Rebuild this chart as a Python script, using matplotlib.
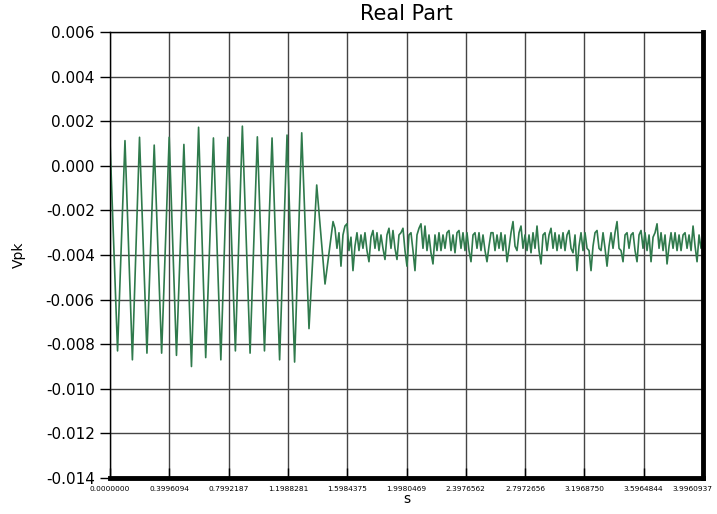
import numpy as np
import matplotlib.pyplot as plt
from matplotlib.transforms import ScaledTranslation

# Oscillating start of the record: turning points (s, mV)
osc_t = [0.000, 0.051, 0.101, 0.151, 0.199, 0.249, 0.298, 0.348, 0.399, 0.448,
         0.498, 0.549, 0.597, 0.645, 0.697, 0.747, 0.795, 0.845, 0.892, 0.944,
         0.993, 1.041, 1.092, 1.143, 1.193, 1.244, 1.292, 1.341, 1.393, 1.449,
         1.503]
osc_v = [1.10, -8.30, 1.13, -8.70, 1.28, -8.40, 0.93, -8.40, 1.28, -8.50,
         0.96, -9.00, 1.73, -8.60, 1.25, -8.70, 1.28, -8.30, 1.78, -8.40,
         1.30, -8.30, 1.25, -8.70, 1.38, -8.80, 1.48, -7.30, -0.86, -5.30,
         -2.50]

# Settled noisy part, evenly spaced samples (mV)
noise_t0 = 1.516
noise_dt = 0.01348
noise_v = [
    -2.8, -3.7, -3.0, -4.5, -3.1, -2.7, -2.6, -3.8, -3.2, -4.7,
    -3.6, -3.0, -3.8, -3.1, -3.7, -3.0, -3.8, -4.3, -3.2, -2.9,
    -3.7, -3.0, -3.8, -3.1, -3.7, -4.2, -3.1, -2.8, -3.7, -2.9,
    -3.7, -4.2, -3.1, -3.0, -2.8, -3.8, -4.5, -3.1, -3.0, -3.8,
    -4.7, -3.1, -2.8, -2.6, -3.7, -2.7, -3.8, -3.1, -3.9, -4.4,
    -3.1, -3.8, -3.0, -3.8, -3.1, -3.7, -3.0, -2.9, -3.8, -3.1,
    -3.9, -3.0, -2.9, -3.7, -3.0, -3.8, -3.0, -3.8, -4.3, -3.1,
    -3.0, -3.7, -3.0, -3.8, -3.1, -3.8, -4.3, -3.6, -3.0, -3.0,
    -3.8, -3.1, -3.7, -3.0, -3.8, -3.1, -4.3, -3.7, -3.0, -2.5,
    -3.6, -3.8, -3.0, -2.7, -3.7, -3.1, -3.8, -3.1, -3.9, -3.0,
    -3.7, -2.7, -3.8, -4.4, -3.1, -3.0, -3.8, -3.1, -2.8, -3.7,
    -3.0, -3.8, -3.1, -3.7, -3.0, -3.8, -3.1, -2.9, -3.7, -3.9,
    -3.1, -4.7, -3.6, -3.0, -3.8, -3.0, -3.7, -3.8, -4.7, -3.6,
    -3.0, -2.9, -3.7, -3.8, -3.0, -3.7, -4.5, -3.6, -3.0, -3.7,
    -3.0, -2.5, -3.7, -3.8, -4.3, -3.1, -3.0, -3.7, -3.1, -3.0,
    -3.8, -4.3, -3.1, -2.9, -3.7, -3.0, -3.8, -3.1, -4.3, -3.2,
    -3.0, -2.6, -3.7, -3.0, -3.8, -3.1, -4.4, -3.6, -3.0, -3.7,
    -3.0, -3.8, -3.1, -3.8, -3.1, -3.0, -3.7, -3.1, -3.8, -2.7,
    -3.6, -4.3, -3.1, -3.7, -3.2,
]

x_ticks = [0.0000000, 0.3996094, 0.7992187, 1.1988281, 1.5984375, 1.9980469,
           2.3976562, 2.7972656, 3.1968750, 3.5964844, 3.9960937]
y_ticks = [0.006, 0.004, 0.002, 0.000, -0.002, -0.004, -0.006, -0.008,
           -0.010, -0.012, -0.014]

noise_t = noise_t0 + noise_dt * np.arange(len(noise_v))
t = np.concatenate([osc_t, noise_t])
v = np.concatenate([osc_v, noise_v]) * 1e-3
t = np.clip(t, 0, x_ticks[-1])

plt.rcParams['font.family'] = ['DejaVu Sans']

fig = plt.figure(figsize=(7.17, 5.14), dpi=100)
ax = fig.add_axes([0.1534, 0.070, 0.8271, 0.8677])

ax.plot(t, v, color='#2f7a4c', linewidth=1.2)

ax.set_xlim(x_ticks[0], x_ticks[-1])
ax.set_ylim(-0.014, 0.006)
ax.set_xticks(x_ticks)
ax.set_xticklabels([f"{x:.7f}" for x in x_ticks], fontsize=5.3)
ax.set_yticks(y_ticks)
ax.set_yticklabels([f"{y:.3f}" for y in y_ticks], fontsize=11)
ax.grid(True, color='#444444', linewidth=1.0)
ax.tick_params(axis='y', direction='out', length=7, width=1, pad=4)
ax.tick_params(axis='x', direction='in', length=7, width=1, pad=6)

# last label sits right at the figure edge; keep it inside without overlap
last = ax.get_xticklabels()[-1]
last.set_horizontalalignment('right')
last.set_transform(last.get_transform() + ScaledTranslation(0.09, 0, fig.dpi_scale_trans))

for side in ['left', 'top']:
    ax.spines[side].set_linewidth(1.0)
for side in ['right', 'bottom']:
    ax.spines[side].set_linewidth(3.5)

ax.set_title("Real Part", fontsize=15, pad=9)
ax.set_ylabel("Vpk", fontsize=10, labelpad=14)
ax.set_xlabel("s", fontsize=10, labelpad=0)

fig.savefig("out.png", dpi=100)
